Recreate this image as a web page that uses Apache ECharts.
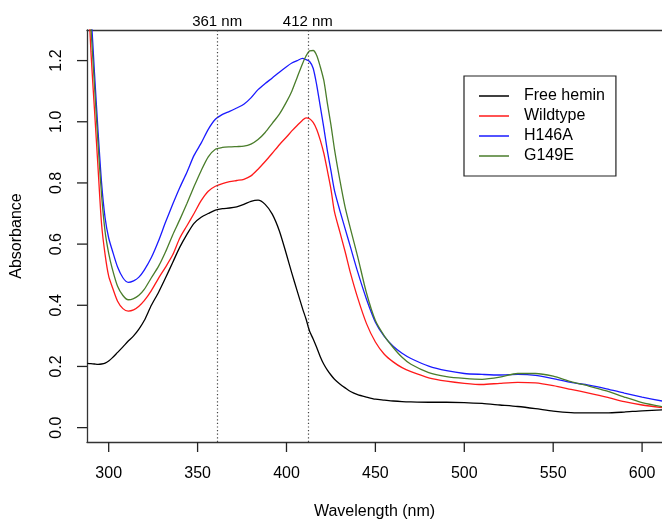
<!DOCTYPE html>
<html><head><meta charset="utf-8">
<script src="https://cdn.jsdelivr.net/npm/echarts@6/dist/echarts.min.js"></script>
<style>html,body{margin:0;padding:0;background:#fff}#c{width:662px;height:525px}</style>
</head><body><div id="c"></div>
<script>
const wavelengths = [288,290,292,294,296,298,300,302,305,308,311,314,317,320,324,328,332,336,340,344,348,352,356,360,364,368,372,376,380,384,388,392,396,400,403,406,409,411,413,415,417,419,421,423,425,427,430,433,436,440,445,450,455,460,465,470,480,490,500,510,520,530,540,550,560,570,580,590,600,612];
const freeHemin = [0.210,0.209,0.208,0.207,0.208,0.211,0.218,0.228,0.246,0.264,0.283,0.300,0.322,0.350,0.400,0.442,0.490,0.540,0.590,0.632,0.668,0.688,0.700,0.711,0.716,0.718,0.722,0.730,0.740,0.744,0.730,0.698,0.643,0.566,0.505,0.447,0.390,0.355,0.315,0.290,0.262,0.232,0.207,0.188,0.172,0.158,0.143,0.130,0.118,0.108,0.100,0.093,0.090,0.087,0.085,0.084,0.083,0.083,0.082,0.079,0.074,0.069,0.062,0.054,0.049,0.048,0.048,0.051,0.055,0.058];
const wildtype = [1.48,1.23,1.04,0.85,0.665,0.565,0.495,0.460,0.413,0.389,0.381,0.385,0.397,0.415,0.448,0.488,0.525,0.565,0.620,0.660,0.700,0.742,0.773,0.789,0.798,0.804,0.808,0.812,0.823,0.845,0.870,0.897,0.925,0.950,0.970,0.988,1.005,1.013,1.010,0.998,0.975,0.940,0.897,0.840,0.780,0.705,0.640,0.575,0.505,0.425,0.340,0.280,0.240,0.215,0.196,0.183,0.163,0.152,0.145,0.141,0.145,0.148,0.146,0.137,0.125,0.113,0.100,0.085,0.074,0.065];
const h146a = [1.50,1.36,1.16,0.97,0.80,0.685,0.620,0.580,0.525,0.490,0.475,0.480,0.492,0.515,0.556,0.610,0.672,0.730,0.785,0.835,0.890,0.930,0.975,1.008,1.024,1.034,1.045,1.057,1.078,1.105,1.125,1.143,1.162,1.180,1.192,1.200,1.207,1.203,1.197,1.175,1.120,1.050,0.980,0.905,0.840,0.775,0.710,0.650,0.590,0.510,0.420,0.345,0.298,0.266,0.243,0.226,0.201,0.186,0.177,0.174,0.172,0.174,0.171,0.160,0.148,0.139,0.127,0.113,0.100,0.086];
const g149e = [1.50,1.31,1.12,0.93,0.76,0.640,0.570,0.520,0.462,0.432,0.418,0.422,0.433,0.452,0.490,0.527,0.575,0.630,0.680,0.733,0.788,0.840,0.885,0.910,0.916,0.918,0.919,0.920,0.927,0.942,0.965,0.995,1.025,1.065,1.100,1.145,1.190,1.215,1.232,1.233,1.217,1.180,1.135,1.060,0.990,0.910,0.810,0.720,0.650,0.560,0.440,0.350,0.300,0.262,0.230,0.207,0.180,0.167,0.161,0.158,0.165,0.177,0.177,0.168,0.150,0.136,0.120,0.100,0.082,0.068];
const seriesNames = ['Free hemin','Wildtype','H146A','G149E'];
const seriesColors = ['#000000','#ff1a1a','#1a1aff','#4a7d2b'];
const markerWavelengths = [361, 412];
const xTicks = [300,350,400,450,500,550,600];
const yTicks = [0,0.2,0.4,0.6,0.8,1.0,1.2];

const X_MIN = 287.8, X_MAX = 611.2, Y_MIN = -0.047, Y_MAX = 1.30;
const FONT = "'Liberation Sans', Arial, Helvetica, sans-serif";
const chart = echarts.init(document.getElementById('c'), null, {renderer:'canvas'});
const allValues = [freeHemin, wildtype, h146a, g149e];
const axisLineStyle = {color:'#333', width:1.3};
const TICK_LEN = 10;

const series = allValues.map((vals, i) => ({
  name: seriesNames[i],
  type: 'line',
  xAxisIndex: 0,
  showSymbol: false,
  symbol: 'none',
  smooth: 0.25,
  clip: true,
  animation: false,
  color: seriesColors[i],
  itemStyle: {color: seriesColors[i]},
  lineStyle: {color: seriesColors[i], width: 1.3},
  data: wavelengths.map((w, k) => [w, vals[k]])
}));
series[0].markLine = {
  silent: true,
  symbol: ['none','none'],
  animation: false,
  lineStyle: {type: [1.2, 2.4], color: '#444', width: 1.2},
  label: {show: true, position: 'end', distance: 1, formatter: p => p.value + ' nm',
          fontSize: 15, color: '#000', fontFamily: FONT},
  data: markerWavelengths.map(w => ({xAxis: w}))
};

chart.setOption({
  animation: false,
  backgroundColor: '#fff',
  grid: {left: 87, right: 0, top: 30, bottom: 79, containLabel: false},
  xAxis: [{
    type: 'value', position: 'bottom', min: X_MIN, max: X_MAX,
    name: 'Wavelength (nm)', nameLocation: 'middle', nameGap: 62,
    nameTextStyle: {fontSize: 16, color: '#000', fontFamily: FONT},
    axisLine: {show: true, onZero: false, lineStyle: axisLineStyle},
    axisTick: {show: false},
    axisLabel: {show: true, margin: 24, fontSize: 16, color: '#000', fontFamily: FONT, customValues: xTicks},
    splitLine: {show: false}
  }, {
    type: 'value', position: 'top', min: X_MIN, max: X_MAX,
    axisLine: {show: true, onZero: false, lineStyle: axisLineStyle},
    axisTick: {show: false}, axisLabel: {show: false}, splitLine: {show: false}
  }],
  yAxis: {
    type: 'value', min: Y_MIN, max: Y_MAX,
    name: 'Absorbance', nameLocation: 'middle', nameGap: 62,
    nameTextStyle: {fontSize: 16, color: '#000', fontFamily: FONT},
    axisLine: {show: true, onZero: false, lineStyle: axisLineStyle},
    axisTick: {show: false},
    axisLabel: {show: true, rotate: 90, margin: 22, fontSize: 16, color: '#000', fontFamily: FONT,
                customValues: yTicks, formatter: v => Number(v).toFixed(1)},
    splitLine: {show: false}
  },
  legend: {
    orient: 'vertical', left: 464, top: 76,
    padding: [10, 11, 10, 15],
    borderColor: '#222', borderWidth: 1.2,
    itemWidth: 30, itemHeight: 1.5, itemGap: 0,
    icon: 'rect',
    textStyle: {fontSize: 16, lineHeight: 20, color: '#000', fontFamily: FONT, padding: [0,0,0,10]},
    data: seriesNames
  },
  series: series
});

// tick marks placed through the axis scales
const tickGraphics = [];
xTicks.forEach(v => {
  const p = chart.convertToPixel({xAxisIndex: 0, yAxisIndex: 0}, [v, Y_MIN]);
  tickGraphics.push({type: 'line', silent: true, z: 10,
    shape: {x1: p[0], y1: p[1], x2: p[0], y2: p[1] + TICK_LEN},
    style: {stroke: '#222', lineWidth: 1.3}});
});
yTicks.forEach(v => {
  const p = chart.convertToPixel({xAxisIndex: 0, yAxisIndex: 0}, [X_MIN, v]);
  tickGraphics.push({type: 'line', silent: true, z: 10,
    shape: {x1: p[0] - TICK_LEN, y1: p[1], x2: p[0], y2: p[1]},
    style: {stroke: '#222', lineWidth: 1.3}});
});
chart.setOption({graphic: tickGraphics});
</script></body></html>
